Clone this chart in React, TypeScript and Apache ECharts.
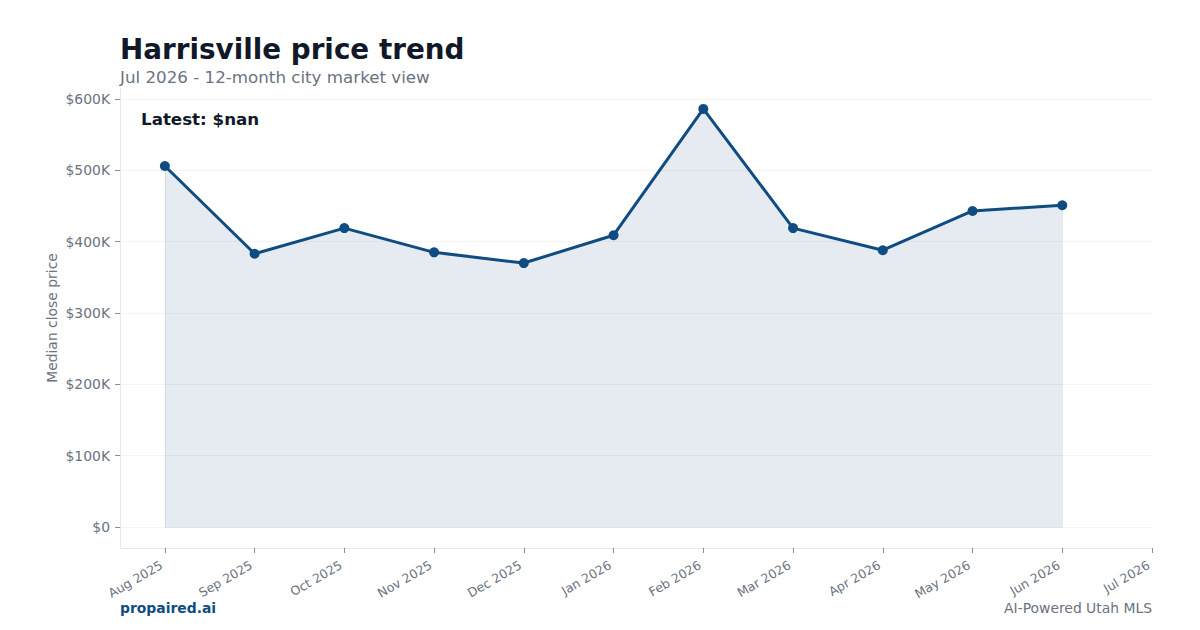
import React, { useEffect, useRef } from "react";
import * as echarts from "echarts";

const months = ["Aug 2025", "Sep 2025", "Oct 2025", "Nov 2025", "Dec 2025", "Jan 2026", "Feb 2026", "Mar 2026", "Apr 2026", "May 2026", "Jun 2026", "Jul 2026"];
const prices: (number | null)[] = [506000, 383000, 419000, 385000, 370000, 409000, 586000, 419000, 388000, 443000, 451000, null];
const yTicks = [0, 100000, 200000, 300000, 400000, 500000, 600000];
const xTicks = months.map((_, i) => i);

const FONT = "DejaVu Sans";
const GRAY = "#6b7280";
const DARK = "#111827";
const BLUE = "#0f4c81";

export default function App() {
  const ref = useRef<HTMLDivElement>(null);
  useEffect(() => {
    if (!ref.current) return;
    const chart = echarts.init(ref.current, null, { renderer: "svg" });
    const data = prices
      .map((v, i) => (v == null ? null : [i, v]))
      .filter((d) => d !== null) as number[][];
    const first = data[0];
    const last = data[data.length - 1];
    chart.setOption({
      animation: false,
      backgroundColor: "#ffffff",
      textStyle: { fontFamily: FONT },
      grid: { left: 120, right: 48, top: 88, bottom: 82, containLabel: false },
      xAxis: {
        type: "value",
        min: -0.5,
        max: 11,
        axisLine: { show: true, onZero: false, lineStyle: { color: "#e5e7eb", width: 1 } },
        axisTick: { show: true, customValues: xTicks, length: 5, lineStyle: { color: GRAY, width: 0.8 } },
        axisLabel: {
          customValues: xTicks,
          formatter: (v: number) => months[Math.round(v)] ?? "",
          rotate: 30,
          margin: 14,
          padding: [0, 4, 0, 0],
          color: GRAY,
          fontSize: 12.5,
          fontFamily: FONT,
        },
        splitLine: { show: false },
      },
      yAxis: {
        type: "value",
        min: -29300,
        max: 615300,
        axisLine: { show: true, onZero: false, lineStyle: { color: "#e5e7eb", width: 1 } },
        axisTick: { show: true, customValues: yTicks, length: 5, lineStyle: { color: GRAY, width: 0.8 } },
        axisLabel: {
          customValues: yTicks,
          formatter: (v: number) => (v === 0 ? "$0" : "$" + Math.round(v / 1000) + "K"),
          margin: 10,
          color: GRAY,
          fontSize: 13.9,
          fontFamily: FONT,
        },
        splitLine: { show: true, lineStyle: { color: "#f3f4f6", width: 1 } },
      },
      series: [
        {
          type: "line",
          data,
          symbol: "circle",
          symbolSize: 10,
          z: 3,
          lineStyle: { color: BLUE, width: 3 },
          itemStyle: { color: BLUE },
          areaStyle: { color: "rgba(15,76,129,0.11)", opacity: 1, origin: 0 },
          markLine: {
            silent: true,
            symbol: "none",
            z: 2,
            label: { show: false },
            lineStyle: { color: "rgba(15,76,129,0.09)", width: 1, type: "solid" },
            data: [
              [{ coord: [first[0], 0] }, { coord: [first[0], first[1]] }],
              [{ coord: [last[0], 0] }, { coord: [last[0], last[1]] }],
              [{ coord: [first[0], 0] }, { coord: [last[0], 0] }],
            ],
          },
        },
      ],
      graphic: [
        { type: "text", left: 120, top: 35, style: { text: "Harrisville price trend", font: `bold 27.8px "${FONT}"`, fill: DARK } },
        { type: "text", left: 120, top: 68, style: { text: "Jul 2026 - 12-month city market view", font: `16.7px "${FONT}"`, fill: GRAY } },
        { type: "text", left: 141, top: 110, style: { text: "Latest: $nan", font: `bold 16.7px "${FONT}"`, fill: DARK } },
        { type: "text", left: 120, top: 601, style: { text: "propaired.ai", font: `bold 13.9px "${FONT}"`, fill: BLUE } },
        { type: "text", right: 48, top: 601, style: { text: "AI-Powered Utah MLS", font: `13.9px "${FONT}"`, fill: GRAY } },
        {
          type: "text",
          x: 52,
          y: 318,
          rotation: Math.PI / 2,
          style: { text: "Median close price", font: `13.9px "${FONT}"`, fill: GRAY, textAlign: "center", textVerticalAlign: "middle" },
        },
      ],
    });
    return () => chart.dispose();
  }, []);
  return <div ref={ref} style={{ position: "fixed", left: 0, top: 0, width: 1200, height: 630 }} />;
}
